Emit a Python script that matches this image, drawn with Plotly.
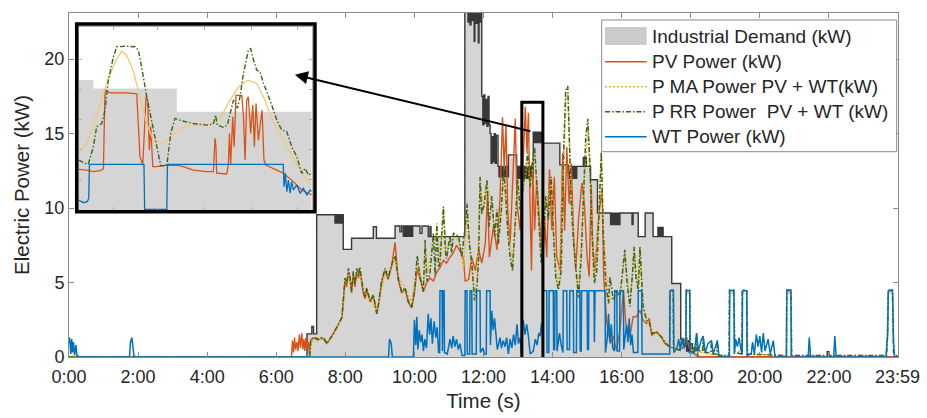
import plotly.graph_objects as go

# ---------------- data (hours, kW) ----------------
demand_pts = [(0,0),(6.89,1.55),(7.03,2.05),(7.08,1.55),(7.17,9.55),
 (7.70,9.0),(7.73,9.55),(7.76,9.0),(7.79,9.55),(7.82,9.0),(7.85,9.55),(7.88,9.0),(7.91,9.55),
 (7.94,7.23),(8.18,7.97),(8.81,8.75),(8.9,7.97),(9.44,8.8),(9.58,8.4),(9.63,8.8),
 (9.68,8.1),(9.71,8.8),(9.74,8.1),(9.77,8.8),(9.80,8.1),(9.83,8.8),(9.86,8.1),(9.89,8.8),(9.92,8.1),(9.95,8.8),
 (10.16,8.3),(10.22,8.8),(10.40,8.08),(10.45,8.75),(10.48,8.08),
 (11.46,23.5),(11.55,22.5),(11.58,23.5),(11.61,22.3),(11.64,23.5),(11.67,22.6),(11.70,23.5),(11.73,21.2),(11.75,23.5),
 (11.79,22.4),(11.82,23.5),(11.85,21.1),(11.87,23.5),(11.91,22.5),(11.93,23.5),
 (11.95,17.5),(11.98,15.6),(12.01,17.6),(12.04,15.7),(12.07,17.3),(12.10,15.5),(12.13,17.5),(12.16,15.6),
 (12.19,15.0),(12.22,13.0),(12.25,14.8),(12.28,13.1),(12.31,15.0),(12.34,13.0),(12.37,14.9),
 (12.42,12.8),(12.45,12.1),(12.48,12.8),(12.51,12.1),(12.54,12.8),(12.57,12.1),(12.60,12.8),(12.63,12.1),(12.66,12.8),(12.69,12.1),
 (12.72,13.57),
 (12.96,12.8),(12.99,12.0),(13.02,12.8),(13.05,12.0),(13.08,12.8),(13.11,12.0),(13.14,12.8),(13.17,12.0),(13.20,12.8),
 (13.23,12.0),(13.26,12.8),(13.29,12.0),(13.32,12.8),(13.35,12.0),(13.38,12.8),(13.41,12.0),
 (13.44,15.1),(13.47,14.4),(13.50,15.1),(13.53,14.4),(13.56,15.1),(13.59,14.4),(13.62,15.1),(13.65,14.4),(13.68,15.1),(13.71,14.5),
 (13.73,14.36),(14.21,12.9),
 (14.45,12.4),(14.48,12.0),(14.51,12.8),(14.54,12.0),(14.57,12.8),(14.60,12.0),(14.63,12.8),(14.66,12.0),
 (14.70,12.8),(14.89,13.4),(14.92,12.8),(14.95,13.4),(14.98,12.8),(15.10,11.9),(15.30,9.67),
 (15.68,8.9),(15.71,9.65),(15.74,8.9),(15.77,9.65),(15.80,8.9),(15.83,9.65),(15.86,8.9),(15.89,9.65),(15.92,8.9),
 (15.95,9.67),(16.3,8.9),(16.33,9.67),(16.48,8.08),(16.68,9.67),(16.91,8.08),
 (17.05,8.7),(17.08,8.08),(17.11,8.7),(17.14,8.08),(17.17,8.7),(17.2,8.08),
 (17.45,4.94),(17.71,1.2),(17.80,0.9),(17.85,1.3),(17.88,0.4),(17.92,1.1),(17.96,0.3),(18.0,0.9),(18.05,0.3),(18.1,0.6),
 (18.2,0),(21.95,0.35),(22.0,0),(24,0)]

pv_pts = [(0,0),(6.44,0),(6.47,1.1),(6.50,0.3),(6.53,1.3),(6.56,0.5),(6.60,1.0),(6.63,0.4),(6.67,1.5),(6.70,0.6),
 (6.74,1.6),(6.77,0.5),(6.80,1.2),(6.83,0.4),(6.86,1.3),(6.89,0.7),(6.93,1.0),(6.96,0.2),(6.99,1.1),
 (7.05,1.25),(7.15,1.3),(7.25,1.2),(7.35,1.25),(7.46,0.9),(7.56,1.2),(7.65,1.55),(7.80,2.2),(7.90,2.65),(7.94,3.7),
 (7.99,5.1),(8.04,4.7),(8.09,5.7),(8.14,5.1),(8.18,4.3),(8.23,5.5),(8.28,4.7),(8.33,5.7),(8.38,5.3),(8.42,5.8),
 (8.47,4.9),(8.52,4.3),(8.57,3.9),(8.62,4.5),(8.72,3.7),(8.81,4.1),(8.91,2.9),(8.96,3.5),(9.05,5.0),(9.15,5.8),
 (9.24,5.2),(9.34,6.1),(9.44,7.7),(9.48,6.6),(9.53,5.2),(9.63,4.3),(9.73,4.6),(9.82,3.7),(9.92,3.3),(10.0,4.3),
 (10.08,5.9),(10.17,5.2),(10.26,4.4),(10.36,5.0),(10.45,5.3),(10.55,5.1),(10.65,5.7),(10.74,6.0),(10.84,6.5),
 (10.93,6.3),(11.03,6.7),(11.13,7.0),(11.22,7.5),(11.32,7.1),(11.42,6.6),(11.47,5.1),
 (11.57,5.2),(11.66,6.7),(11.76,5.8),(11.86,7.2),(11.95,6.3),(12.05,7.6),(12.12,11.0),(12.17,6.7),(12.29,8.8),
 (12.39,7.2),(12.48,10.8),(12.55,16.1),(12.60,12.6),(12.65,15.6),(12.70,9.9),(12.77,7.6),(12.84,11.2),(12.92,16.0),
 (12.97,10.3),(13.06,8.5),(13.13,11.9),(13.21,16.8),(13.26,13.7),(13.30,16.4),(13.35,9.9),(13.39,5.8),(13.43,12.6),
 (13.48,8.5),(13.54,11.9),(13.61,9.9),(13.67,7.6),(13.71,6.05),(13.77,9.2),(13.83,6.7),(13.91,12.6),(13.98,8.5),
 (14.05,12.1),(14.12,6.7),(14.22,5.8),(14.29,13.7),(14.35,8.5),(14.41,14.1),(14.48,10.3),(14.54,13.0),(14.61,8.1),
 (14.67,5.8),(14.75,9.2),(14.85,11.7),(14.92,10.3),(15.0,6.7),(15.06,5.4),(15.12,11.6),(15.16,7.6),(15.23,5.8),
 (15.31,8.75),(15.38,10.3),(15.43,11.2),(15.48,5.4),(15.57,2.3),(15.67,0.9),(15.76,1.4),(15.85,0.45),(15.95,1.8),
 (16.05,4.5),(16.12,2.25),(16.24,1.35),(16.33,2.7),(16.43,2.7),(16.53,3.15),(16.62,2.47),(16.72,2.25),(16.80,2.6),
 (16.87,1.46),(17.01,1.69),(17.15,1.35),(17.25,0.9),(17.40,0.68),(17.54,0.56),(17.69,0.45),(17.73,1.13),(17.80,0.68),
 (17.88,1.24),(17.95,0.68),(18.02,0.34),(18.17,0.1),(18.3,0),(24,0)]

ma_pts = [(0,0),(6.97,0),(7.02,0.9),(7.1,1.2),(7.3,1.25),(7.46,1.0),(7.6,1.3),(7.8,2.1),(7.92,2.9),(7.99,4.6),
 (8.09,5.5),(8.18,4.7),(8.28,5.2),(8.38,5.6),(8.47,5.2),(8.57,4.2),(8.72,3.9),(8.91,3.1),(9.05,4.6),(9.15,5.6),
 (9.34,6.0),(9.44,6.5),(9.53,5.5),(9.73,4.6),(9.92,3.6),(10.08,6.2),(10.17,5.5),(10.26,4.8),(10.31,7.2),(10.36,5.6),
 (10.55,7.6),(10.65,8.4),(10.74,6.6),(10.84,9.6),(10.93,7.0),(11.03,7.8),(11.13,8.0),(11.22,8.0),(11.32,7.4),
 (11.42,6.0),(11.52,9.8),(11.66,6.6),(11.74,4.3),(11.81,5.0),(11.90,11.4),(12.02,10.0),(12.10,11.5),(12.24,10.4),
 (12.32,8.5),(12.43,8.0),(12.58,12.0),(12.70,8.8),(12.84,6.3),(12.99,11.4),(13.13,11.0),(13.28,13.2),(13.35,11.6),
 (13.48,13.6),(13.61,8.9),(13.67,6.8),(13.80,10.4),(13.96,11.6),(14.09,5.9),(14.17,4.9),(14.32,13.0),(14.38,17.3),
 (14.44,17.6),(14.54,10.8),(14.67,6.2),(14.75,4.4),(14.90,11.0),(15.02,15.5),(15.14,8.9),(15.21,5.3),(15.35,10.0),
 (15.41,13.3),(15.47,8.4),(15.62,3.9),(15.76,4.0),(15.95,4.2),(16.09,6.9),(16.24,3.6),(16.36,7.1),(16.48,4.7),
 (16.53,7.0),(16.62,3.6),(16.72,2.6),(16.87,1.7),(17.15,1.4),(17.38,0.7),(17.39,4.3),(17.50,4.3),(17.52,0.6),
 (17.85,0.9),(17.86,4.3),(17.98,4.3),(18.0,0.5),(18.15,0.4),(18.17,1.3),(18.2,0.3),(18.34,0.3),(18.36,1.2),(18.39,0.2),
 (19.11,0.1),(19.12,4.3),(19.26,4.3),(19.28,0.4),(19.48,0.3),(19.49,4.3),(19.63,4.3),(19.65,0.2),(20.77,0.1),
 (20.78,4.3),(20.91,4.3),(20.93,0.1),(23.66,0.1),(23.71,4.3),(23.85,4.3),(23.88,0.2),(24,0)]

rr_pts = [(0,0),(6.97,0),(7.0,1.1),(7.05,1.25),(7.1,1.3),(7.2,1.15),(7.3,1.3),(7.4,1.2),(7.46,0.9),(7.56,1.2),
 (7.65,1.55),(7.8,2.2),(7.9,2.65),(7.94,3.75),(7.99,5.3),(8.04,4.9),(8.09,5.95),(8.14,5.3),(8.18,4.4),(8.23,5.75),
 (8.28,4.9),(8.33,5.95),(8.38,5.5),(8.42,6.05),(8.47,5.1),(8.52,4.4),(8.57,4.0),(8.62,4.65),(8.72,3.75),(8.81,4.2),
 (8.91,2.9),(8.96,3.55),(9.05,5.1),(9.15,5.95),(9.24,5.3),(9.34,6.2),(9.44,6.8),(9.48,6.0),(9.53,5.3),(9.63,4.4),
 (9.73,4.65),(9.82,3.75),(9.92,3.3),(10.0,4.4),(10.08,6.8),(10.17,5.3),(10.26,4.4),(10.31,7.85),(10.36,5.1),
 (10.45,5.6),(10.55,8.3),(10.6,5.5),(10.65,8.97),(10.7,6.0),(10.74,6.3),(10.84,10.1),(10.9,7.0),(10.93,6.6),
 (11.03,8.1),(11.08,7.0),(11.13,8.3),(11.22,8.2),(11.28,8.1),(11.37,6.7),(11.47,8.75),(11.52,10.3),(11.59,7.6),
 (11.66,6.3),(11.74,3.8),(11.81,4.7),(11.86,6.7),(11.90,12.1),(11.95,9.6),(12.02,10.3),(12.10,11.9),(12.16,8.75),
 (12.24,10.8),(12.32,8.1),(12.39,9.9),(12.43,7.6),(12.51,9.6),(12.58,12.6),(12.63,11.4),(12.70,8.5),(12.77,6.7),
 (12.84,5.8),(12.92,9.6),(12.99,11.9),(13.06,9.9),(13.13,11.2),(13.21,12.6),(13.28,13.7),(13.35,11.4),(13.42,13.2),
 (13.48,14.1),(13.54,11.4),(13.61,8.5),(13.67,6.3),(13.74,7.6),(13.80,10.8),(13.88,9.2),(13.96,12.1),(14.03,8.1),
 (14.09,5.4),(14.17,4.5),(14.25,5.8),(14.32,13.7),(14.38,17.9),(14.44,18.2),(14.49,14.8),(14.54,10.3),(14.61,7.6),
 (14.67,5.8),(14.75,4.0),(14.83,6.7),(14.90,11.4),(14.96,14.8),(15.02,16.0),(15.08,13.0),(15.14,8.5),(15.21,4.95),
 (15.28,5.8),(15.35,10.3),(15.41,13.8),(15.47,8.1),(15.54,4.95),(15.62,3.6),(15.66,5.4),(15.76,3.8),(15.85,4.5),
 (15.95,4.0),(16.05,6.7),(16.09,7.2),(16.16,4.9),(16.24,3.4),(16.32,5.8),(16.36,7.4),(16.41,5.4),(16.48,4.5),
 (16.53,7.4),(16.58,5.4),(16.62,3.4),(16.72,2.47),(16.80,2.36),(16.87,1.57),(17.01,1.69),(17.15,1.35),(17.25,1.0),
 (17.38,0.68),(17.39,0.7),(17.40,4.5),(17.49,4.5),(17.50,0.6),(17.6,0.5),(17.7,0.45),(17.8,0.7),(17.86,1.0),
 (17.87,4.5),(17.97,4.5),(17.98,0.5),(18.1,0.6),(18.15,0.4),(18.17,1.6),(18.2,0.4),(18.34,0.4),(18.36,1.4),
 (18.39,0.3),(18.58,0.3),(18.6,1.1),(18.63,0.2),(18.75,0.2),(18.77,1.1),(18.8,0.1),
 (19.11,0.1),(19.12,4.5),(19.25,4.5),(19.27,0.3),(19.48,0.2),(19.49,4.5),(19.62,4.5),(19.64,0.2),
 (20.77,0.1),(20.78,4.5),(20.9,4.5),(20.92,0.1),(23.67,0.1),(23.7,1.5),(23.72,4.5),(23.84,4.5),(23.87,0.3),(24,0)]

wt_pts = [(0,0.9),(0.02,1.3),(0.05,0.2),(0.08,1.2),(0.1,0.3),(0.13,1.0),(0.16,0.1),(0.2,0.8),(0.23,0.1),(0.3,0.0),
 (1.75,0.0),(1.78,1.0),(1.82,1.3),(1.85,0.6),(1.88,0.1),(1.92,0),(9.25,0),(9.28,1.2),(9.33,0.9),(9.36,0),(9.97,0),
 (10.0,2.5),(10.04,0.8),(10.07,2.7),(10.1,0.5),(10.14,1.8),(10.18,1.0),(10.22,1.5),(10.26,0.4),(10.3,1.2),(10.35,0.6),
 (10.4,2.9),(10.44,1.5),(10.48,2.6),(10.52,0.9),(10.57,2.4),(10.62,1.3),(10.66,2.0),(10.7,0.3),(10.73,0.3),
 (10.74,4.45),(10.8,4.45),(10.81,0.4),(10.83,4.45),(10.86,4.45),(10.87,0.3),(10.95,0.2),(11.03,1.2),(11.08,0.6),
 (11.12,1.4),(11.17,0.7),(11.22,1.2),(11.27,0.5),(11.32,0.9),(11.38,0.1),(11.46,0.1),(11.47,4.45),(11.52,4.45),
 (11.53,0.2),(11.6,0.2),(11.61,4.45),(11.66,4.45),(11.67,0.2),(11.79,0.2),(11.8,4.45),(11.9,4.45),(11.91,0.3),
 (11.98,0.6),(12.03,0.2),(12.08,0.2),(12.09,4.45),(12.19,4.45),(12.2,0.8),(12.24,3.1),(12.28,1.8),(12.32,2.6),
 (12.36,1.5),(12.4,0.5),(12.48,1.3),(12.52,0.6),(12.57,1.1),(12.62,0.7),(12.67,1.3),(12.72,0.2),(12.77,1.2),
 (12.82,0.6),(12.87,1.5),(12.92,0.8),(12.97,2.2),(13.01,0.9),(13.06,1.3),(13.1,0.3),(13.15,2.5),(13.2,1.5),
 (13.25,2.2),(13.3,1.4),(13.35,0.2),(13.44,0.4),(13.5,1.2),(13.55,0.8),(13.6,1.6),(13.64,1.4),(13.68,2.3),
 (13.72,1.1),(13.73,4.45),(13.83,4.45),(13.84,0.3),(13.89,0.3),(13.9,4.45),(14.02,4.45),(14.03,0.5),(14.06,0.5),
 (14.07,4.45),(14.12,4.45),(14.13,0.4),(14.2,1.6),(14.25,0.8),(14.3,0.3),(14.31,4.45),(14.41,4.45),(14.42,0.5),
 (14.49,0.5),(14.5,4.45),(14.6,4.45),(14.61,0.3),(14.69,0.3),(14.7,4.45),(14.79,4.45),(14.8,0.4),(14.83,0.4),
 (14.84,4.45),(15.0,4.45),(15.01,0.5),(15.04,0.5),(15.05,4.45),(15.2,4.45),(15.21,1.0),(15.23,4.45),(15.52,4.45),
 (15.53,0.3),(15.58,1.2),(15.62,2.9),(15.66,1.0),(15.7,2.2),(15.74,0.6),(15.79,0.4),(15.8,4.45),(15.86,4.45),
 (15.87,0.4),(15.94,0.4),(15.95,4.45),(16.05,4.45),(16.06,0.5),(16.14,2.2),(16.18,1.0),(16.22,2.6),(16.26,0.8),
 (16.3,1.5),(16.34,0.3),(16.47,0.3),(16.48,4.45),(16.58,4.45),(16.59,0.2),(17.39,0.2),(17.4,4.45),(17.5,4.45),
 (17.51,0.3),(17.6,0.6),(17.65,1.2),(17.7,0.5),(17.75,1.3),(17.8,0.6),(17.86,0.8),(17.87,4.45),(17.97,4.45),
 (17.98,0.3),(18.1,0.3),(18.17,1.6),(18.22,0.4),(18.3,1.1),(18.36,1.4),(18.42,0.3),(18.5,0.9),(18.6,1.1),
 (18.65,0.2),(18.77,1.1),(18.82,0.0),(19.12,0.0),(19.13,4.45),(19.25,4.45),(19.26,0.2),(19.3,1.2),(19.35,0.7),
 (19.4,1.3),(19.45,0.5),(19.49,0.2),(19.5,4.45),(19.62,4.45),(19.63,0.1),(19.75,0.2),(19.79,1.0),(19.84,0.2),
 (19.9,1.5),(19.95,0.7),(20.0,1.4),(20.05,0.3),(20.1,1.6),(20.15,0.4),(20.24,1.2),(20.3,0.2),(20.39,1.1),
 (20.44,0.0),(20.77,0),(20.78,4.45),(20.9,4.45),(20.91,0),(21.4,0),(21.43,1.3),(21.47,0),(22.14,0),(22.17,1.4),
 (22.21,0),(23.65,0),(23.7,1.5),(23.72,4.45),(23.84,4.45),(23.87,1.0),(23.9,0),(24,0)]

# inset (zoom of the marked window), x in percent of the window
inset_demand_pts = [(0,18.62),(6.3,18.06),(42.1,16.5),(100,16.5)]
inset_pv_pts = [(0,12.65),(3.4,12.6),(6.3,12.5),(9.2,12.56),(10.6,12.7),(11.3,17.95),(13.4,17.77),(20.6,17.77),
 (24.9,17.7),(25.6,15.06),(26.3,13.5),(27.5,12.94),(28.9,17.5),(29.6,17.3),(30.3,13.94),(30.9,15.5),(31.8,12.83),
 (33.5,12.83),(37.8,12.94),(43.5,12.9),(49.2,12.6),(54.9,12.5),(57.8,12.5),(58.5,14.72),(58.9,14.2),(59.2,12.4),
 (63.5,12.34),(64.2,12.94),(64.7,15.06),(65.2,12.94),(66.1,16.17),(66.7,14.16),(67.5,17.6),(70.0,17.6),(70.7,16.17),
 (71.4,13.27),(72.1,17.28),(72.8,17.5),(73.8,15.06),(74.7,16.95),(75.4,14.16),(76.1,17.06),(77.1,14.6),(77.8,15.5),
 (78.7,16.6),(79.5,13.27),(80.3,12.94),(85.0,12.6),(87.8,12.4),(92.1,11.83),(95.7,11.27),(100,10.94)]
inset_ma_pts = [(0,13.72),(3.4,14.39),(6.3,15.5),(9.2,17.06),(12.0,18.4),(15.6,19.84),(18.5,20.56),(20.6,20.29),
 (23.5,19.18),(26.3,17.5),(29.2,15.72),(32.0,14.61),(34.2,14.34),(37.1,14.43),(39.9,14.83),(43.5,15.39),(47.8,15.61),
 (53.5,15.61),(57.8,15.77),(60.7,16.06),(64.9,17.28),(69.2,18.29),(72.8,18.62),(76.4,18.4),(79.3,17.5),(82.1,16.39),
 (85.0,15.39),(87.8,14.61),(91.4,13.6),(95.0,12.6),(97.9,11.94),(100,11.6)]
inset_rr_pts = [(0,13.27),(2.7,13.05),(4.1,13.0),(6.3,14.16),(7.7,15.5),(9.9,15.72),(11.3,16.6),(12.7,18.62),
 (14.9,20.18),(16.3,20.85),(20.6,20.89),(24.2,20.85),(25.6,20.62),(27.0,19.51),(29.2,17.5),(31.3,15.95),(33.5,14.39),
 (35.2,12.9),(37.8,12.9),(39.5,15.06),(41.3,16.06),(44.2,15.9),(49.2,15.72),(54.9,15.61),(57.8,15.68),(58.7,16.28),
 (59.5,15.61),(62.1,15.46),(63.8,15.61),(64.9,16.39),(66.4,17.28),(67.1,17.17),(68.1,16.73),(69.2,17.5),(70.7,19.06),
 (72.8,20.62),(73.8,20.73),(75.0,19.96),(76.4,19.29),(77.8,19.18),(79.3,18.4),(82.1,17.28),(85.0,15.95),(87.1,15.28),
 (89.3,15.17),(91.4,14.16),(93.6,13.5),(95.7,12.38),(97.1,12.72),(98.6,12.27),(100,12.38)]
inset_wt_pts = [(0,10.6),(2.0,10.42),(3.7,10.49),(4.3,10.71),(4.6,12.98),(28.0,12.98),(28.3,9.97),(37.8,9.97),
 (38.1,12.98),(87.8,12.98),(88.1,11.49),(88.7,12.38),(89.3,11.16),(90.0,11.94),(90.7,11.05),(91.4,11.83),
 (92.1,11.27),(93.6,11.6),(95.0,11.05),(96.4,11.38),(97.9,10.94),(99.3,11.27),(100,11.16)]

x_tick_vals = [0, 2, 4, 6, 8, 10, 12, 14, 16, 18, 20, 22, 23.983]
x_tick_text = ["0:00", "2:00", "4:00", "6:00", "8:00", "10:00", "12:00", "14:00", "16:00",
               "18:00", "20:00", "22:00", "23:59"]
y_tick_vals = [0, 5, 10, 15, 20]
names = ["Industrial Demand (kW)", "PV Power (kW)", "P MA Power PV + WT(kW)",
         "P RR Power  PV + WT (kW)", "WT Power (kW)"]

# zoom window marked on the main chart and arrow (hours, kW)
window = dict(t0=13.11, t1=13.72, p0=-0.2, p1=17.1)
arrow_tail = (13.40, 15.14)
arrow_head = (6.54, 18.96)
inset_x_range = [0, 100]
inset_y_range = [9.93, 22.19]

def split(p):
    return [a for a, b in p], [b for a, b in p]

C_DEM_FILL = "#D5D5D5"
C_DEM_LINE = "#383838"
C_PV = "#D95319"
C_MA = "#EDB120"
C_RR = "#3E6512"
C_WT = "#0072BD"
FONT = "Liberation Sans, Arial, sans-serif"
TXT = "#262626"
DASH_MA = "2px,2px"
DASH_RR = "5px,2px,1.5px,2px"

fig = go.Figure()

t, v = split(demand_pts)
fig.add_trace(go.Scatter(x=t, y=v, mode="lines", line=dict(color=C_DEM_LINE, width=1.4, shape="hv"),
                         fill="tozeroy", fillcolor=C_DEM_FILL, name=names[0], hoverinfo="skip"))
t, v = split(pv_pts)
fig.add_trace(go.Scatter(x=t, y=v, mode="lines", line=dict(color=C_PV, width=1.4), name=names[1]))
t, v = split(ma_pts)
fig.add_trace(go.Scatter(x=t, y=v, mode="lines", line=dict(color=C_MA, width=1.5, dash=DASH_MA), name=names[2]))
t, v = split(rr_pts)
fig.add_trace(go.Scatter(x=t, y=v, mode="lines", line=dict(color=C_RR, width=1.5, dash=DASH_RR), name=names[3]))
t, v = split(wt_pts)
fig.add_trace(go.Scatter(x=t, y=v, mode="lines", line=dict(color=C_WT, width=1.5), name=names[4]))

# ---- inset ----
ix = [inset_x_range[0], inset_x_range[1], inset_x_range[1], inset_x_range[0], inset_x_range[0]]
iy = [inset_y_range[0], inset_y_range[0], inset_y_range[1], inset_y_range[1], inset_y_range[0]]
fig.add_trace(go.Scatter(x=ix, y=iy, mode="lines", fill="toself", fillcolor="white", line=dict(width=0),
                         xaxis="x2", yaxis="y2", hoverinfo="skip"))
t, v = split(inset_demand_pts)
fig.add_trace(go.Scatter(x=t, y=v, mode="lines", line=dict(width=0, shape="hv"), fill="tozeroy",
                         fillcolor=C_DEM_FILL, xaxis="x2", yaxis="y2", hoverinfo="skip"))
t, v = split(inset_pv_pts)
fig.add_trace(go.Scatter(x=t, y=v, mode="lines", line=dict(color=C_PV, width=1.3), xaxis="x2", yaxis="y2"))
t, v = split(inset_ma_pts)
fig.add_trace(go.Scatter(x=t, y=v, mode="lines", line=dict(color="#F2C872", width=1.3), xaxis="x2", yaxis="y2"))
t, v = split(inset_rr_pts)
fig.add_trace(go.Scatter(x=t, y=v, mode="lines", line=dict(color=C_RR, width=1.4, dash=DASH_RR), xaxis="x2", yaxis="y2"))
t, v = split(inset_wt_pts)
fig.add_trace(go.Scatter(x=t, y=v, mode="lines", line=dict(color=C_WT, width=1.3), xaxis="x2", yaxis="y2"))

axis_common = dict(showgrid=False, zeroline=False, showline=True, linecolor="#8a8a8a", linewidth=1,
                   ticks="inside", ticklen=5, tickcolor="#8a8a8a", mirror="ticks", automargin=False,
                   tickfont=dict(family=FONT, size=18, color=TXT))

fig.update_layout(
    width=927, height=418,
    margin=dict(l=69, r=29, t=13, b=61),
    paper_bgcolor="white", plot_bgcolor="white",
    font=dict(family=FONT, color=TXT),
    showlegend=False,
    xaxis=dict(range=[0, 24], tickvals=x_tick_vals, ticktext=x_tick_text, ticklabelstandoff=3,
               title=dict(text="Time (s)", font=dict(family=FONT, size=20.5, color=TXT), standoff=8),
               **axis_common),
    yaxis=dict(range=[0, 23.1], tickvals=y_tick_vals,
               title=dict(text="Electric Power (kW)", font=dict(family=FONT, size=20.5, color=TXT), standoff=9),
               **axis_common),
    xaxis2=dict(domain=[0.0117, 0.2928], anchor="y2", range=inset_x_range, showgrid=False, zeroline=False,
                showline=True, linecolor="#b0b0b0", mirror="ticks", ticks="inside", ticklen=3, automargin=False,
                tickcolor="#b0b0b0", tickvals=[15, 34, 54, 74, 94], showticklabels=False),
    yaxis2=dict(domain=[0.4273, 0.960], anchor="x2", range=inset_y_range, showgrid=False, zeroline=False,
                showline=True, linecolor="#b0b0b0", mirror="ticks", ticks="inside", ticklen=3, automargin=False,
                tickcolor="#b0b0b0", tickvals=[12, 14, 16, 18, 20], showticklabels=False),
)

# inset frame, window rectangle and arrow
fig.add_shape(type="rect", xref="paper", yref="paper", x0=0.0093, x1=0.2967, y0=0.4224, y1=0.968,
              line=dict(color="black", width=3.5), layer="above")
fig.add_shape(type="rect", xref="x", yref="y", x0=window["t0"], x1=window["t1"], y0=window["p0"], y1=window["p1"],
              line=dict(color="black", width=3), layer="above")
fig.add_annotation(x=arrow_head[0], y=arrow_head[1], ax=arrow_tail[0], ay=arrow_tail[1],
                   xref="x", yref="y", axref="x", ayref="y", text="", showarrow=True,
                   arrowhead=2, arrowsize=1.3, arrowwidth=2, arrowcolor="black")

# ---- legend (drawn as a MATLAB-style box) ----
LEG_X0, LEG_X1, LEG_Y0, LEG_Y1 = 0.6426, 0.9984, 0.5968, 0.9797
row_y = [0.9331, 0.8584, 0.7858, 0.7131, 0.6404]
sym_x0, sym_x1, txt_x = 0.6466, 0.6969, 0.7008
fig.add_shape(type="rect", xref="paper", yref="paper", x0=LEG_X0, x1=LEG_X1, y0=LEG_Y0, y1=LEG_Y1,
              fillcolor="white", line=dict(color="#8a8a8a", width=1), layer="above")
fig.add_shape(type="rect", xref="paper", yref="paper", x0=sym_x0, x1=sym_x1, y0=row_y[0] - 0.026, y1=row_y[0] + 0.026,
              fillcolor="#CBCBCB", line=dict(width=0), layer="above")
legend_styles = [(C_PV, "solid"), (C_MA, DASH_MA), (C_RR, DASH_RR), (C_WT, "solid")]
for yy, (col, dsh) in zip(row_y[1:], legend_styles):
    fig.add_shape(type="line", xref="paper", yref="paper", x0=sym_x0, x1=sym_x1, y0=yy, y1=yy,
                  line=dict(color=col, width=1.6, dash=dsh), layer="above")
for yy, nm in zip(row_y, names):
    fig.add_annotation(x=txt_x, y=yy, xref="paper", yref="paper", text=nm, showarrow=False,
                       xanchor="left", yanchor="middle", font=dict(family=FONT, size=19, color=TXT))

fig.write_html("out.html", config={"displayModeBar": False},
               post_script="document.body.style.margin='0';document.body.style.padding='0';")
